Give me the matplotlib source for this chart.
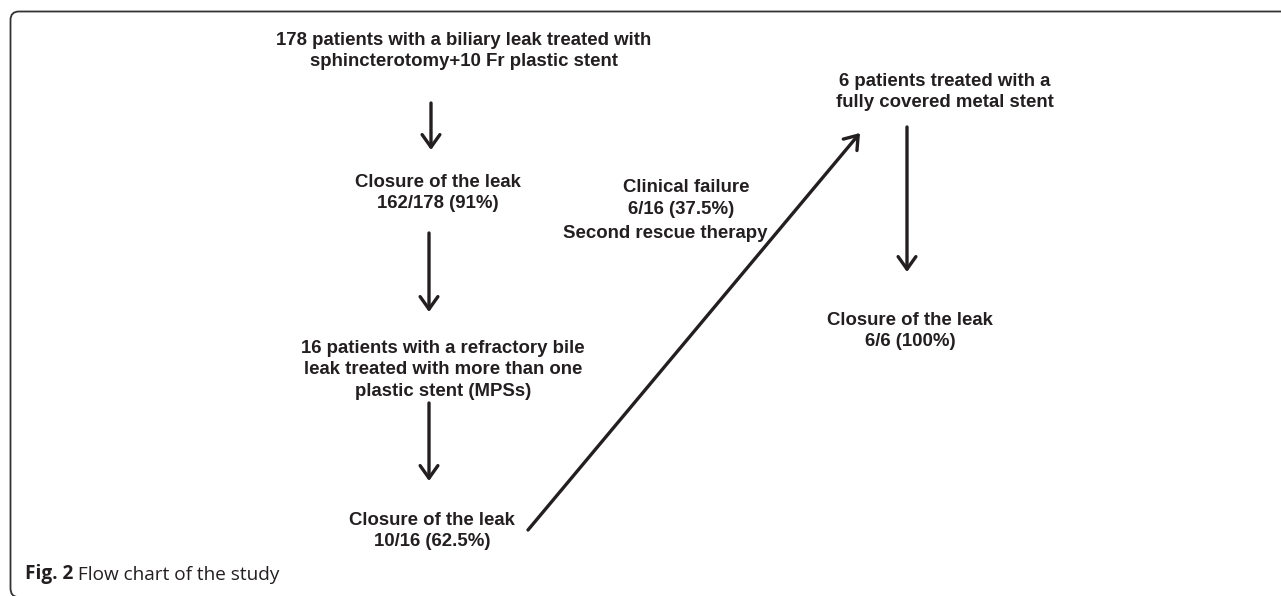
import matplotlib
matplotlib.use("Agg")
import matplotlib.pyplot as plt
from matplotlib.path import Path
from matplotlib.patches import PathPatch

# node texts of the flow chart
top_box = ["178 patients with a biliary leak treated with",
           "sphincterotomy+10 Fr plastic stent"]
closure_1 = ["Closure of the leak", "162/178 (91%)"]
refractory = ["16 patients with a refractory bile",
              "leak treated with more than one",
              "plastic stent (MPSs)"]
closure_2 = ["Closure of the leak", "10/16 (62.5%)"]
failure = ["Clinical failure", "6/16 (37.5%)", "Second rescue therapy"]
metal = ["6 patients treated with a", "fully covered metal stent"]
closure_3 = ["Closure of the leak", "6/6 (100%)"]
caption_bold = "Fig. 2"
caption_text = " Flow chart of the study"

INK = "#231f20"

fig = plt.figure(figsize=(12.81, 5.96), dpi=100)
ax = fig.add_axes([0, 0, 1, 1])
ax.set_xlim(0, 1281)
ax.set_ylim(596, 0)
ax.axis("off")

# frame: left and top edge with rounded corners
verts = [(18, 597), (10.5, 597), (10.5, 588), (10.5, 20), (10.5, 11.5),
         (19, 11.5), (1285, 11.5)]
codes = [Path.MOVETO, Path.CURVE3, Path.CURVE3, Path.LINETO, Path.CURVE3,
         Path.CURVE3, Path.LINETO]
ax.add_patch(PathPatch(Path(verts, codes), fill=False, lw=1.3, ec="#333333"))

BOLD = dict(fontsize=13.4, fontweight="bold", family="Liberation Sans",
            color=INK)


def node(lines, x, y):
    ax.text(x, y, "\n".join(lines), ha="center", va="center",
            linespacing=1.35, **BOLD)


def arrow(x0, y0, x1, y1):
    ax.annotate("", xy=(x1, y1), xytext=(x0, y0),
                arrowprops=dict(arrowstyle="->,head_length=0.45,head_width=0.32",
                                mutation_scale=20, lw=2.4, color=INK,
                                shrinkA=0, shrinkB=0))


node(top_box, 464, 51)
node(closure_1, 438, 193)
node(refractory, 443, 370)
node(closure_2, 432, 531)
node(metal, 945, 92)
node(closure_3, 910, 331)

# the failure label is not evenly centred in the original
for line, cx, cy in zip(failure, [686, 681, 665], [188, 210, 233]):
    ax.text(cx, cy, line, ha="center", va="center", **BOLD)

arrow(431, 103, 431, 150)
arrow(429, 233, 429, 312)
arrow(429, 403, 429, 481)
arrow(528, 530, 860, 133)
arrow(907, 127, 907, 272)

cap = ax.text(25, 574, caption_bold, ha="left", va="center", fontsize=13.7,
              fontweight="bold", family="Open Sans", color=INK)
ax.annotate(caption_text, xy=(1, 0), xycoords=cap, ha="left", va="bottom",
            fontsize=13.7, family="Open Sans", color=INK)

fig.savefig("out.png", dpi=100)
